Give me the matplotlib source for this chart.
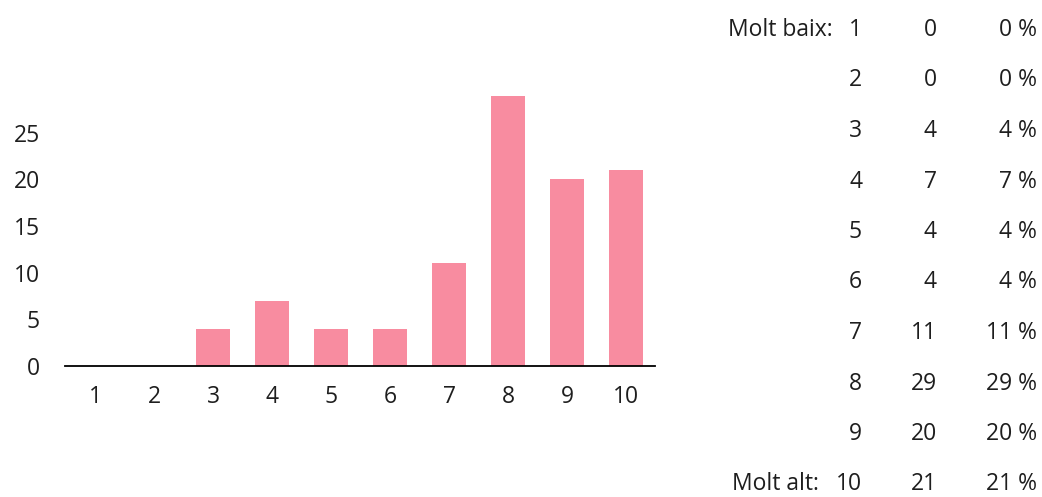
import numpy as np
import matplotlib
matplotlib.use("Agg")
import matplotlib.pyplot as plt

plt.rcParams['font.family'] = ['Open Sans', 'DejaVu Sans']

# answers on a 1-10 scale
scores = [1, 2, 3, 4, 5, 6, 7, 8, 9, 10]
counts = [0, 0, 4, 7, 4, 4, 11, 29, 20, 21]
percents = [0, 0, 4, 7, 4, 4, 11, 29, 20, 21]
yticks = [0, 5, 10, 15, 20, 25]
end_labels = {1: "Molt baix:", 10: "Molt alt:"}

bar_color = "#f88ca0"
text_color = "#1e1e1e"
fs = 16.5

W, H = 1042, 497
fig = plt.figure(figsize=(W / 100, H / 100), dpi=100)

# bar chart on the left
ax = fig.add_axes([65 / W, 1 - 366 / H, 590 / W, 277 / H])
ax.bar(scores, counts, width=0.58, color=bar_color)
ax.set_xlim(0.49, 10.49)
ax.set_ylim(0, 29.7)
ax.set_xticks(scores)
ax.set_yticks(yticks)
ax.tick_params(length=0, labelsize=fs, labelcolor=text_color)
ax.tick_params(axis='y', pad=18)
ax.tick_params(axis='x', pad=14)
for side in ['top', 'right', 'left']:
    ax.spines[side].set_visible(False)
ax.spines['bottom'].set_linewidth(1.3)
ax.spines['bottom'].set_color('black')

# frequency table on the right, laid out in pixel units
tab = fig.add_axes([0, 0, 1, 1])
tab.set_xlim(0, W)
tab.set_ylim(H, 0)
tab.axis('off')

row0, row_step = 30, 50.5
for i, (s, c, p) in enumerate(zip(scores, counts, percents)):
    y = row0 + i * row_step
    num = tab.text(862, y, str(s), ha='right', va='center', fontsize=fs, color=text_color)
    tab.text(937, y, str(c), ha='right', va='center', fontsize=fs, color=text_color)
    tab.text(1037, y, f"{p} %", ha='right', va='center', fontsize=fs, color=text_color)
    if s in end_labels:
        tab.annotate(end_labels[s], xy=(0, 0.5), xycoords=num, xytext=(-12, 0),
                     textcoords='offset points', ha='right', va='center',
                     fontsize=fs, color=text_color)

fig.savefig("out.png", dpi=100)
